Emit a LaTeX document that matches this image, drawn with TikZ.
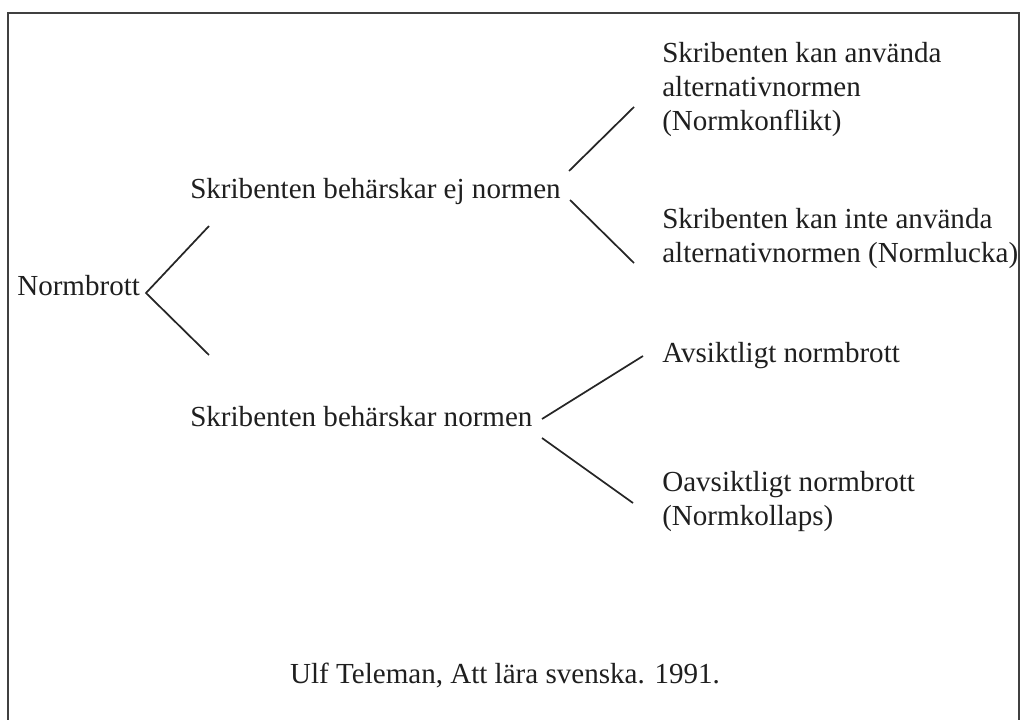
\documentclass[tikz,border=0pt]{standalone}
\usepackage{fontspec}
\setmainfont{Liberation Serif}
\tikzset{
  txt/.style={inner sep=0pt, anchor=base west, align=left, text=black!88,
    font=\fontsize{21.8}{25.5}\selectfont},
  branch/.style={line width=1.3pt, black!85},
}
\begin{document}
\begin{tikzpicture}[x=0.75pt, y=-0.75pt]
                \useasboundingbox (0,0) rectangle (1021,720);
                \draw[line width=1.1pt, black!75] (8,720) -- (8,13) -- (1019,13) -- (1019,720);

                % multi-line texts sit on the baseline of their last line
                \node[txt] (root) at (17,296) {Normbrott};
                \node[txt] (ej)   at (190,199) {Skribenten behärskar ej normen};
                \node[txt] (kan)  at (190,426) {Skribenten behärskar normen};
                \node[txt] (konflikt) at (662,131) {Skribenten kan använda\\alternativnormen\\(Normkonflikt)};
                \node[txt] (lucka)    at (662,263) {Skribenten kan inte använda\\alternativnormen (Normlucka)};
                \node[txt] (avs)      at (662,362) {Avsiktligt normbrott};
                \node[txt] (oavs)     at (662,525) {Oavsiktligt normbrott\\(Normkollaps)};
                \node[txt, anchor=base] (source) at (505,683) {Ulf Teleman, Att lära svenska. 1991.};

                % fork ends
                \coordinate (root-f) at (146,293);
                \coordinate (ej-in)  at (209,226);
                \coordinate (kan-in) at (209,355);
                \coordinate (ej-up)  at (569,171);
                \coordinate (ej-dn)  at (570,200);
                \coordinate (konflikt-in) at (634,107);
                \coordinate (lucka-in)    at (634,263);
                \coordinate (kan-up) at (542,419);
                \coordinate (kan-dn) at (542,438);
                \coordinate (avs-in)  at (643,356);
                \coordinate (oavs-in) at (633,503);

                \draw[branch] (ej-in) -- (root-f) -- (kan-in);
                \draw[branch] (ej-up) -- (konflikt-in);
                \draw[branch] (ej-dn) -- (lucka-in);
                \draw[branch] (kan-up) -- (avs-in);
                \draw[branch] (kan-dn) -- (oavs-in);
\end{tikzpicture}
\end{document}
